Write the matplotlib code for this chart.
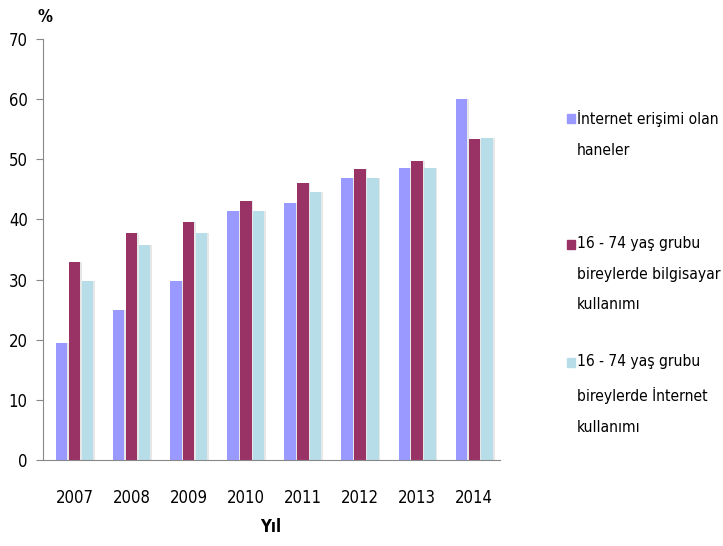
import numpy as np
import matplotlib
matplotlib.use("Agg")
import matplotlib.pyplot as plt
from matplotlib.patches import Rectangle

# yillar ve seriler
years = ["2007", "2008", "2009", "2010", "2011", "2012", "2013", "2014"]
hane_internet = [19.5, 25.0, 29.8, 41.4, 42.8, 46.9, 48.6, 60.0]
bilgisayar_kullanimi = [33.0, 37.8, 39.6, 43.1, 46.1, 48.4, 49.7, 53.4]
internet_kullanimi = [29.8, 35.8, 37.8, 41.4, 44.6, 46.9, 48.6, 53.6]

series_names = [
    "İnternet erişimi olan\nhaneler",
    "16 - 74 yaş grubu\nbireylerde bilgisayar\nkullanımı",
    "16 - 74 yaş grubu\nbireylerde İnternet\nkullanımı",
]
colors = ["#9999FF", "#993366", "#B7DEE8"]

plt.rcParams['font.family'] = ['DejaVu Sans']
plt.rcParams['font.stretch'] = 'condensed'

fig = plt.figure(figsize=(7.23, 5.46), dpi=100)
ax = fig.add_axes([43 / 723, 1 - 460 / 546, 457 / 723, 421 / 546])

x = np.arange(len(years))
width = 0.2
step = 0.225
for i, vals in enumerate([hane_internet, bilgisayar_kullanimi, internet_kullanimi]):
    pos = x + (i - 1) * step + 0.05
    # hafif golge
    ax.bar(pos + 0.03, vals, width, color="#d0d0d0", alpha=0.5, zorder=1)
    ax.bar(pos, vals, width, color=colors[i], zorder=2)

ax.set_xlim(-0.5, len(years) - 0.5)
ax.set_ylim(0, 70)
ax.set_yticks(range(0, 71, 10))
ax.set_xticks(x + 0.05)
ax.set_xticklabels(years)

for s in ["top", "right"]:
    ax.spines[s].set_visible(False)
ax.spines["left"].set_color("#888888")
ax.spines["bottom"].set_color("#888888")
ax.tick_params(axis="y", length=5, color="#888888", labelsize=12, pad=6)
ax.tick_params(axis="x", length=0, labelsize=12, pad=21)

fig.text(45 / 723, 1 - 17 / 546, "%", fontsize=12, fontweight="bold", ha="center", va="center")
fig.text(271 / 723, 1 - 527 / 546, "Yıl", fontsize=12, fontweight="bold", ha="center", va="center")

# elle cizilmis aciklama kutusu
legend_tops = [110, 236, 354]
for i, name in enumerate(series_names):
    top = legend_tops[i]
    fig.patches.append(Rectangle((567 / 723, 1 - (top + 13) / 546), 8 / 723, 9 / 546,
                                 transform=fig.transFigure, color=colors[i]))
    fig.text(577 / 723, 1 - top / 546, name, fontsize=11.2, va="top", ha="left",
             linespacing=2.3)

fig.savefig("out.png", dpi=100)
